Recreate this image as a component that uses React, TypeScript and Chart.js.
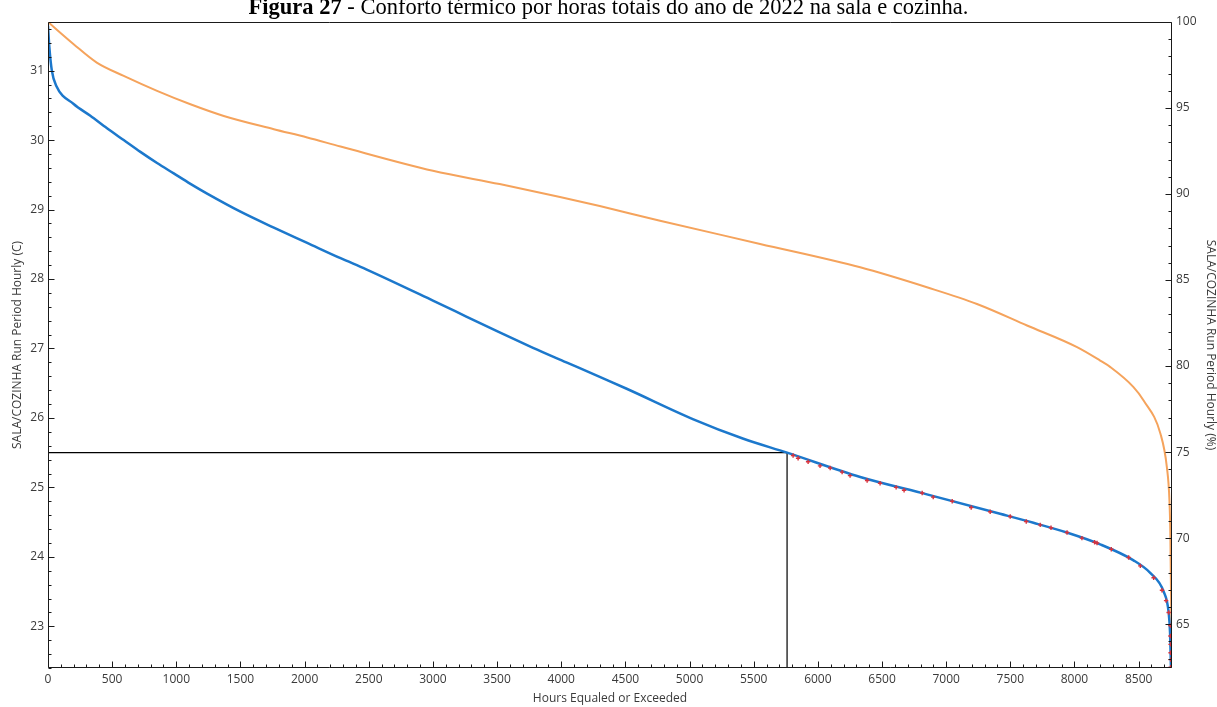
import React, { useEffect, useRef } from "react";
import { Chart, registerables } from "chart.js";

Chart.register(...registerables);

const TITLE_BOLD = "Figura 27";
const TITLE_REST = " - Conforto térmico por horas totais do ano de 2022 na sala e cozinha.";
const X_TITLE = "Hours Equaled or Exceeded";
const Y_LEFT_TITLE = "SALA/COZINHA Run Period Hourly (C)";
const Y_RIGHT_TITLE = "SALA/COZINHA Run Period Hourly (%)";

// Temperature duration curve (°C) – left axis
const tempHours = [0, 10, 30, 65, 200, 330, 460, 590, 720, 850, 980, 1110, 1240, 1500, 1760, 2020, 2280, 2480, 3000, 3260, 3520, 3780, 4040, 4300, 4510, 5030, 5420, 5760, 6330, 6850, 7420, 7680, 7940, 8200, 8460, 8590, 8695, 8734, 8745, 8752];
const tempValues = [31.65, 31.35, 31.0, 30.78, 30.52, 30.35, 30.17, 30.0, 29.83, 29.67, 29.52, 29.37, 29.23, 28.97, 28.74, 28.52, 28.3, 28.14, 27.69, 27.46, 27.23, 27.01, 26.8, 26.59, 26.42, 25.98, 25.7, 25.5, 25.15, 24.9, 24.62, 24.49, 24.35, 24.18, 23.95, 23.77, 23.5, 23.2, 22.9, 22.4];

// Relative humidity duration curve (%) – right axis
const rhHours = [0, 200, 380, 590, 850, 1110, 1370, 1760, 2020, 2280, 3000, 3520, 3990, 4300, 4770, 5550, 6330, 6850, 7240, 7630, 8020, 8200, 8280, 8460, 8540, 8670, 8720, 8740, 8747, 8752, 8756, 8760];
const rhValues = [100, 98.71, 97.64, 96.87, 96.0, 95.22, 94.54, 93.77, 93.29, 92.76, 91.35, 90.58, 89.83, 89.3, 88.45, 87.1, 85.74, 84.58, 83.61, 82.36, 81.1, 80.32, 79.94, 78.78, 77.99, 76.07, 74.13, 72.2, 70.27, 67.0, 64.5, 62.45];

// Red markers on the temperature curve
const markHours = [5807, 5846, 5924, 6017, 6096, 6189, 6251, 6384, 6485, 6610, 6672, 6813, 6899, 7047, 7195, 7343, 7499, 7624, 7733, 7817, 7942, 8058, 8157, 8176, 8287, 8422, 8513, 8617, 8682, 8714, 8734, 8747, 8748, 8749, 8749, 8750, 8750];
const markValues = [25.46, 25.42, 25.37, 25.31, 25.28, 25.22, 25.17, 25.1, 25.06, 25.0, 24.96, 24.92, 24.86, 24.8, 24.71, 24.65, 24.58, 24.51, 24.46, 24.42, 24.35, 24.27, 24.21, 24.2, 24.11, 23.99, 23.87, 23.7, 23.52, 23.37, 23.2, 23.01, 22.86, 22.74, 22.62, 22.52, 22.41];

// Comfort limit reference
const limitHours = 5760;
const limitTemp = 25.5;

// Axis ranges and ticks
const X_MIN = 0;
const X_MAX = 8760;
const Y_LEFT_MIN = 22.4;
const Y_LEFT_MAX = 31.7;
const Y_RIGHT_MIN = 62.45;
const Y_RIGHT_MAX = 100;
const xTicks = [0, 500, 1000, 1500, 2000, 2500, 3000, 3500, 4000, 4500, 5000, 5500, 6000, 6500, 7000, 7500, 8000, 8500];
const leftTicks = [23, 24, 25, 26, 27, 28, 29, 30, 31];
const rightTicks = [65, 70, 75, 80, 85, 90, 95, 100];
const X_MINOR = 100;
const LEFT_MINOR = 0.2;
const RIGHT_MINOR = 1;

const zip = (xs: number[], ys: number[]) => xs.map((x, i) => ({ x, y: ys[i] }));

const framePlugin = {
  id: "frameTicks",
  afterDatasetsDraw(chart: any) {
    const { ctx, chartArea } = chart;
    const { left, right, top, bottom } = chartArea;
    const L = Math.round(left) + 0.5;
    const R = Math.round(right) - 0.5;
    const T = Math.round(top) + 0.5;
    const B = Math.round(bottom) - 0.5;
    ctx.save();
    ctx.strokeStyle = "#1a1a1a";
    ctx.lineWidth = 1;
    ctx.beginPath();
    ctx.moveTo(L, T);
    ctx.lineTo(R, T);
    ctx.lineTo(R, B);
    ctx.lineTo(L, B);
    ctx.closePath();
    ctx.stroke();

    const xs = chart.scales.x;
    const yl = chart.scales.y;
    const yr = chart.scales.y2;
    ctx.beginPath();
    for (let v = X_MIN; v <= X_MAX + 1e-6; v += X_MINOR) {
      const px = Math.round(xs.getPixelForValue(v)) + 0.5;
      const major = Math.abs(v % 500) < 1e-6;
      ctx.moveTo(px, B);
      ctx.lineTo(px, B - (major ? 6 : 3));
    }
    const lStart = Math.ceil(Y_LEFT_MIN / LEFT_MINOR - 1e-9) * LEFT_MINOR;
    for (let v = lStart; v <= Y_LEFT_MAX + 1e-6; v += LEFT_MINOR) {
      const py = Math.round(yl.getPixelForValue(v)) + 0.5;
      const r = Math.round(v * 10) / 10;
      const major = Math.abs(r - Math.round(r)) < 1e-6;
      ctx.moveTo(L, py);
      ctx.lineTo(L + (major ? 6 : 3), py);
    }
    const rStart = Math.ceil(Y_RIGHT_MIN / RIGHT_MINOR) * RIGHT_MINOR;
    for (let v = rStart; v <= Y_RIGHT_MAX + 1e-6; v += RIGHT_MINOR) {
      const py = Math.round(yr.getPixelForValue(v)) + 0.5;
      const major = Math.abs(v % 5) < 1e-6;
      ctx.moveTo(R, py);
      ctx.lineTo(R - (major ? 6 : 3), py);
    }
    ctx.stroke();
    ctx.restore();
  },
};

const tickFont = { family: '"Open Sans", "Noto Sans", sans-serif', size: 12 };
const titleFont = { family: '"Open Sans", "Noto Sans", sans-serif', size: 12 };

export default function App() {
  const ref = useRef<HTMLCanvasElement | null>(null);

  useEffect(() => {
    if (!ref.current) return;
    const chart = new Chart(ref.current, {
      type: "line",
      data: {
        datasets: [
          {
            label: "limit",
            data: [
              { x: X_MIN, y: limitTemp },
              { x: limitHours, y: limitTemp },
              { x: limitHours, y: Y_LEFT_MIN },
            ],
            yAxisID: "y",
            borderColor: "#000000",
            borderWidth: 1.2,
            pointRadius: 0,
            tension: 0,
            order: 4,
          },
          {
            label: "RH",
            data: zip(rhHours, rhValues),
            yAxisID: "y2",
            borderColor: "#f5a35c",
            borderWidth: 2,
            pointRadius: 0,
            cubicInterpolationMode: "monotone",
            order: 3,
          },
          {
            label: "Temp",
            data: zip(tempHours, tempValues),
            yAxisID: "y",
            borderColor: "#1c78cc",
            borderWidth: 2.5,
            pointRadius: 0,
            cubicInterpolationMode: "monotone",
            order: 2,
          },
          {
            label: "marks",
            data: zip(markHours, markValues),
            yAxisID: "y",
            showLine: false,
            pointStyle: "cross",
            pointRadius: 2.2,
            pointBorderWidth: 1.4,
            pointBorderColor: "#d8323c",
            pointBackgroundColor: "#d8323c",
            borderColor: "#d8323c",
            order: 1,
          },
        ],
      },
      options: {
        responsive: false,
        animation: false,
        events: [],
        layout: { padding: { top: 22, left: 0, right: 0, bottom: 0 } },
        plugins: { legend: { display: false }, tooltip: { enabled: false }, title: { display: false } },
        scales: {
          x: {
            type: "linear",
            min: X_MIN,
            max: X_MAX,
            grid: { display: false, drawTicks: false },
            border: { display: false },
            afterBuildTicks: (s: any) => {
              s.ticks = xTicks.map((v) => ({ value: v }));
            },
            afterFit: (s: any) => {
              s.height = 39;
            },
            ticks: {
              autoSkip: false,
              maxRotation: 0,
              padding: 4,
              color: "#3a3a3a",
              font: tickFont,
              callback: (v: any) => String(v),
            },
            title: { display: true, text: X_TITLE, color: "#3a3a3a", font: titleFont, padding: { top: 0, bottom: 1 } },
          },
          y: {
            type: "linear",
            position: "left",
            min: Y_LEFT_MIN,
            max: Y_LEFT_MAX,
            grid: { display: false, drawTicks: false },
            border: { display: false },
            afterBuildTicks: (s: any) => {
              s.ticks = leftTicks.map((v) => ({ value: v }));
            },
            afterFit: (s: any) => {
              s.width = 48;
            },
            ticks: { padding: 4, color: "#3a3a3a", font: tickFont, callback: (v: any) => String(v) },
            title: { display: true, text: Y_LEFT_TITLE, color: "#3a3a3a", font: titleFont, padding: { top: 10, bottom: 0 } },
          },
          y2: {
            type: "linear",
            position: "right",
            min: Y_RIGHT_MIN,
            max: Y_RIGHT_MAX,
            grid: { display: false, drawTicks: false },
            border: { display: false },
            afterBuildTicks: (s: any) => {
              s.ticks = rightTicks.map((v) => ({ value: v }));
            },
            afterFit: (s: any) => {
              s.width = 45;
            },
            ticks: { padding: 4, color: "#3a3a3a", font: tickFont, callback: (v: any) => String(v) },
            title: { display: true, text: Y_RIGHT_TITLE, color: "#3a3a3a", font: titleFont, padding: { top: -1, bottom: 0 } },
          },
        },
      },
      plugins: [framePlugin],
    } as any);
    return () => chart.destroy();
  }, []);

  return (
    <div style={{ position: "absolute", left: 0, top: 0, width: 1217, height: 707, background: "#ffffff", overflow: "hidden" }}>
      <canvas ref={ref} width={1217} height={707} style={{ position: "absolute", left: 0, top: 0, width: 1217, height: 707 }} />
      <div
        style={{
          position: "absolute",
          left: 0,
          top: -4,
          width: 1217,
          textAlign: "center",
          fontFamily: '"Liberation Serif", "Times New Roman", serif',
          fontSize: 22.5,
          lineHeight: "22.5px",
          whiteSpace: "nowrap",
          color: "#000",
        }}
      >
        <b>{TITLE_BOLD}</b>
        {TITLE_REST}
      </div>
    </div>
  );
}
